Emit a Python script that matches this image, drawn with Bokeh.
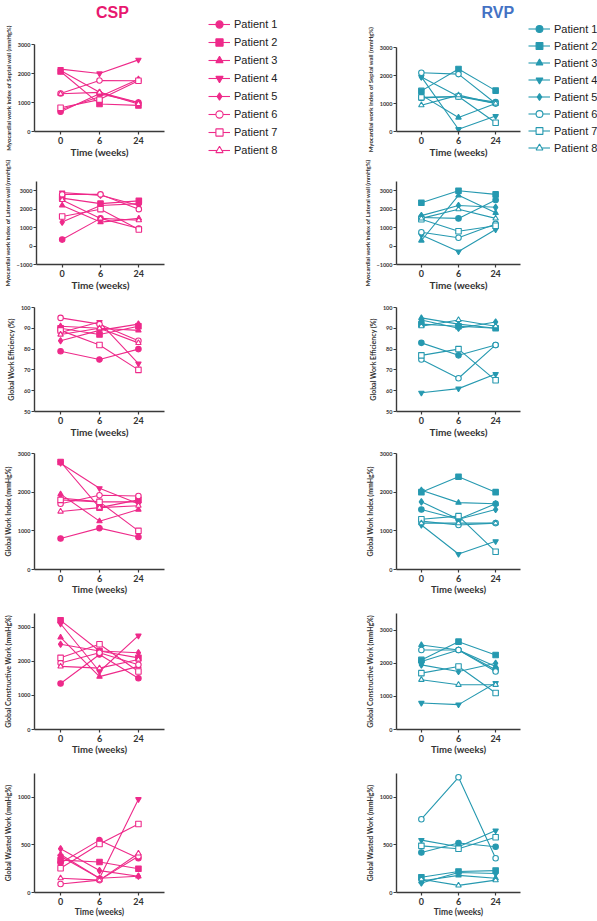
from bokeh.plotting import figure
from bokeh.models import Range1d, FixedTicker, Legend, LegendItem, Label
from bokeh.layouts import column, row
from bokeh.embed import file_html
from bokeh.resources import INLINE

weeks = ["0", "6", "24"]
patients = ["Patient 1", "Patient 2", "Patient 3", "Patient 4",
            "Patient 5", "Patient 6", "Patient 7", "Patient 8"]
markers = ["circle", "square", "triangle", "inverted_triangle",
           "diamond", "circle", "square", "triangle"]
filled = [True, True, True, True, True, False, False, False]

# ---- CSP (rows = patients 1..8, columns = week 0, 6, 24) ----
csp_septal = [
    [680, 1300, 1000], [2070, 950, 900], [750, 1200, 1800], [2150, 2000, 2470],
    [2100, 1350, 1000], [1310, 1760, 1750], [820, 1100, 1750], [1300, 1350, 950],
]
csp_lateral = [
    [350, 1500, 950], [2600, 2300, 2450], [2200, 1300, 1500], [2900, 2750, 2200],
    [1300, 2200, 2300], [2800, 2800, 2000], [1600, 2000, 900], [2500, 1500, 1400],
]
csp_gwe = [
    [79, 75, 80], [90, 87, 91], [91, 90, 89], [88, 93, 73],
    [84, 89, 92], [95, 92, 84], [89, 82, 70], [87, 90, 83],
]
csp_gwi = [
    [800, 1070, 840], [2780, 1600, 1800], [1950, 1250, 1550], [2750, 2100, 1700],
    [1850, 1750, 1750], [1700, 1920, 1900], [1800, 1750, 1000], [1500, 1600, 1650],
]
csp_gcw = [
    [1350, 2200, 1500], [3200, 2300, 2100], [2700, 1550, 1850], [3100, 1700, 2750],
    [2500, 2300, 2250], [1950, 2250, 1900], [2100, 2500, 1700], [1850, 1800, 2050],
]
csp_gww = [
    [310, 550, 360], [340, 320, 250], [400, 150, 170], [380, 150, 980],
    [460, 230, 170], [90, 130, 380], [255, 510, 720], [150, 130, 410],
]

# ---- RVP ----
rvp_septal = [
    [1200, 1250, 1050], [1450, 2230, 1460], [1300, 500, 1000], [1950, 80, 550],
    [1950, 1250, 1000], [2100, 2050, 1000], [1220, 1250, 310], [940, 1300, 1000],
]
rvp_lateral = [
    [1550, 1500, 2500], [2350, 3000, 2800], [300, 2750, 1800], [600, -300, 900],
    [1650, 2200, 2100], [750, 450, 1200], [1450, 800, 1100], [1500, 2000, 1500],
]
rvp_gwe = [
    [83, 77, 82], [92, 91, 90], [95, 92, 90], [59, 61, 68],
    [94, 90, 93], [75, 66, 82], [77, 80, 65], [91, 94, 91],
]
rvp_gwi = [
    [1550, 1300, 1700], [2000, 2400, 2000], [2050, 1730, 1700], [1150, 400, 730],
    [1750, 1300, 1550], [1250, 1150, 1200], [1300, 1380, 460], [1200, 1200, 1200],
]
rvp_gcw = [
    [2050, 2400, 1800], [2100, 2650, 2250], [2550, 2400, 1900], [800, 750, 1400],
    [1950, 1750, 2000], [2400, 2400, 1750], [1700, 1900, 1100], [1500, 1350, 1350],
]
rvp_gww = [
    [420, 520, 480], [160, 220, 230], [120, 180, 150], [550, 480, 650],
    [100, 210, 200], [770, 1210, 360], [490, 460, 580], [140, 75, 130],
]

y_labels = [
    "Myocardial work index of Septal wall (mmHg%)",
    "Myocardial work index of Lateral wall (mmHg%)",
    "Global Work Efficiency (%)",
    "Global Work Index (mmHg%)",
    "Global Constructive Work (mmHg%)",
    "Global Wasted Work (mmHg%)",
]
y_ticks = [
    [0, 1000, 2000, 3000],
    [-1000, 0, 1000, 2000, 3000],
    [50, 60, 70, 80, 90, 100],
    [0, 1000, 2000, 3000],
    [0, 1000, 2000, 3000],
    [0, 500, 1000],
]
csp_yranges = [(0, 3000), (-1000, 3500), (50, 100), (0, 3000), (0, 3400), (0, 1250)]
rvp_yranges = [(0, 3000), (-1000, 3500), (50, 100), (0, 3000), (0, 3500), (0, 1250)]

CSP_COLOR = "#EE2A8A"
RVP_COLOR = "#2699B0"
AXIS_COLOR = "#3a3a3a"
FONT = "Lato"

HEADER_H = 25
row_heights = [160, 133, 147, 160, 161, 160]
# (min_border_top, min_border_bottom) per row
csp_borders = [(44 - HEADER_H, 29), (18, 26), (14, 27), (10, 30), (12, 29), (12, 26)]
rvp_borders = [(47 - HEADER_H, 28), (21, 26), (9, 26), (13, 31), (13, 32), (11, 29)]
ylabel_sizes = ["6px", "6px", "7px", "7px", "7px", "7px"]
xlabel_sizes = ["10px", "10px", "10px", "9.5px", "9.5px", "8.5px"]


def draw_patients(p, data, color):
    xs = list(range(len(weeks)))
    lines = [p.line(xs, vals, line_color=color, line_width=1.1) for vals in data]
    dots = []
    for i, vals in enumerate(data):
        size = 6.5 if markers[i] == "diamond" else 5.5
        dots.append(p.scatter(xs, vals, marker=markers[i], size=size,
                              fill_color=color if filled[i] else "white",
                              line_color=color, line_width=1.1))
    return lines, dots


def make_panel(data, color, ylabel, yrange, yticks, width, height, bl, br,
               bt, bb, xlab_size, ylab_size):
    p = figure(width=width, height=height, output_backend="svg",
               toolbar_location=None, min_border_left=bl, min_border_right=br,
               min_border_top=bt, min_border_bottom=bb,
               x_range=Range1d(-0.67, 2.67), y_range=Range1d(*yrange),
               outline_line_color=None)
    p.xgrid.visible = False
    p.ygrid.visible = False
    draw_patients(p, data, color)
    xs = list(range(len(weeks)))
    p.xaxis.ticker = FixedTicker(ticks=xs)
    p.xaxis.major_label_overrides = {i: w for i, w in enumerate(weeks)}
    p.yaxis.ticker = FixedTicker(ticks=yticks)
    for ax in (p.xaxis, p.yaxis):
        ax.axis_line_color = AXIS_COLOR
        ax.axis_line_width = 1.4
        ax.major_tick_line_color = AXIS_COLOR
        ax.major_tick_line_width = 1.2
        ax.major_tick_out = 3
        ax.major_tick_in = 0
        ax.minor_tick_line_color = None
        ax.major_label_text_font = FONT
        ax.major_label_text_font_style = "bold"
        ax.major_label_text_color = "#333333"
        ax.axis_label_text_font = FONT
        ax.axis_label_text_font_style = "bold"
        ax.axis_label_text_color = "#333333"
    p.xaxis.major_label_text_font_size = "9px"
    p.xaxis.major_label_standoff = 2
    p.xaxis.axis_label = "Time (weeks)"
    p.xaxis.axis_label_text_font_size = xlab_size
    p.xaxis.axis_label_standoff = -1
    p.yaxis.major_label_text_font_size = "5.5px"
    p.yaxis.major_label_standoff = 1
    p.yaxis.axis_label = ylabel
    p.yaxis.axis_label_text_font_size = ylab_size
    p.yaxis.axis_label_standoff = 3
    return p


def make_header(text, color, width, cx):
    h = figure(width=width, height=HEADER_H, output_backend="svg",
               toolbar_location=None, min_border=0,
               x_range=Range1d(0, width), y_range=Range1d(0, HEADER_H),
               x_axis_location=None, y_axis_location=None,
               outline_line_color=None)
    h.grid.visible = False
    h.add_layout(Label(x=cx, y=HEADER_H - 12, text=text, text_align="center",
                       text_baseline="middle", text_font="Liberation Sans",
                       text_font_size="16px", text_font_style="bold",
                       text_color=color))
    return h


def make_legend_fig(data, color, width, height, top, left, margin, row_h):
    # the legend is built from the patients' own renderers; they sit outside
    # this small figure's visible x range so that only the legend shows
    f = figure(width=width, height=height, output_backend="svg",
               toolbar_location=None, min_border_left=left, min_border_right=0,
               min_border_top=top, min_border_bottom=0,
               x_range=Range1d(100, 101), y_range=Range1d(0, 1),
               x_axis_location=None, y_axis_location=None,
               outline_line_color=None)
    f.grid.visible = False
    lines, dots = draw_patients(f, data, color)
    items = [LegendItem(label=patients[i], renderers=[lines[i], dots[i]])
             for i in range(len(patients))]
    lg = Legend(items=items, location="top_left", padding=0, margin=margin,
                spacing=0, glyph_width=22, glyph_height=row_h,
                label_height=row_h, label_standoff=4,
                background_fill_alpha=0, border_line_color=None,
                label_text_font="Liberation Sans", label_text_font_size="11px",
                label_text_color="#222222")
    f.add_layout(lg)
    return f


csp_data = [csp_septal, csp_lateral, csp_gwe, csp_gwi, csp_gcw, csp_gww]
rvp_data = [rvp_septal, rvp_lateral, rvp_gwe, rvp_gwi, rvp_gcw, rvp_gww]

rows = []
for r in range(6):
    if r == 0:
        lp = make_panel(csp_data[r], CSP_COLOR, y_labels[r], csp_yranges[r],
                        y_ticks[r], 200, row_heights[r] - HEADER_H, 34, 36,
                        csp_borders[r][0], csp_borders[r][1],
                        xlabel_sizes[r], ylabel_sizes[r])
        rp = make_panel(rvp_data[r], RVP_COLOR, y_labels[r], rvp_yranges[r],
                        y_ticks[r], 224, row_heights[r] - HEADER_H, 96, 4,
                        rvp_borders[r][0], rvp_borders[r][1],
                        xlabel_sizes[r], ylabel_sizes[r])
        left_block = column(make_header("CSP", "#E8186F", 200, 120), lp)
        right_block = column(make_header("RVP", "#4472C4", 224, 183), rp)
        lg_csp = column(make_legend_fig(csp_data[r], CSP_COLOR, 100,
                                        row_heights[r], 9, 2, 6, 18))
        lg_rvp = column(make_legend_fig(rvp_data[r], RVP_COLOR, 73,
                                        row_heights[r], 16, 0, 4, 17))
        rows.append(row(left_block, lg_csp, right_block, lg_rvp))
        continue
    lp = make_panel(csp_data[r], CSP_COLOR, y_labels[r], csp_yranges[r],
                    y_ticks[r], 300, row_heights[r], 34, 136,
                    csp_borders[r][0], csp_borders[r][1],
                    xlabel_sizes[r], ylabel_sizes[r])
    rp = make_panel(rvp_data[r], RVP_COLOR, y_labels[r], rvp_yranges[r],
                    y_ticks[r], 297, row_heights[r], 96, 77,
                    rvp_borders[r][0], rvp_borders[r][1],
                    xlabel_sizes[r], ylabel_sizes[r])
    rows.append(row(lp, rp))

layout = column(*rows)
open("out.html", "w").write(file_html(layout, INLINE))
